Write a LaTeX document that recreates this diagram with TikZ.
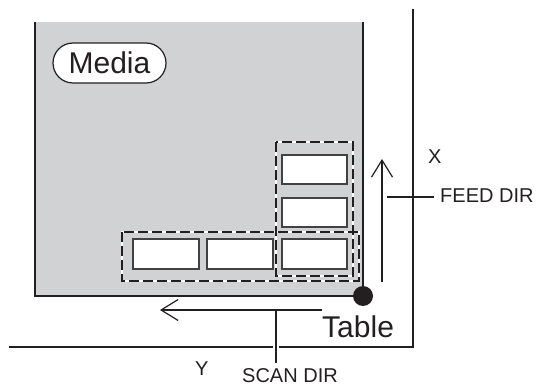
\documentclass[tikz,border=0pt]{standalone}
\usepackage{fontspec}
\setmainfont{Liberation Sans}
\usetikzlibrary{arrows.meta}
\definecolor{ink}{HTML}{231F20}
\definecolor{mediagray}{HTML}{D1D2D4}
\tikzset{
  edgeline/.style={draw=ink, line width=1.6pt},
  cellbox/.style={draw=ink!85, line width=1.2pt, fill=white},
  groupwhite/.style={draw=white, line width=2.2pt},
  groupdash/.style={draw=ink, line width=1.6pt, dash pattern=on 10pt off 4pt},
  barb/.style={-{Straight Barb[length=17pt,width=21pt,line width=1.2pt]}, draw=ink, line width=1.2pt},
  labtext/.style={font=\fontsize{20}{22}\selectfont, text=ink, inner sep=0pt},
  bigtext/.style={font=\fontsize{30}{32}\selectfont, text=ink, inner sep=0pt},
}
\begin{document}
\begin{tikzpicture}[x=1pt,y=-1pt]
\useasboundingbox (0,0) rectangle (541,385);
% media sheet
\fill[mediagray] (35,22) rectangle (363,296);
\draw[edgeline] (35,22) -- (35,296) -- (363,296) -- (363,22);
% table edges
\coordinate (xtop) at (413,9);
\coordinate (corner) at (413,347);
\coordinate (yleft) at (9,347);
\draw[edgeline] (xtop) -- (corner) -- (yleft);
% dashed groups
\foreach \s in {groupwhite,groupdash}{
  \draw[\s] (276,142) rectangle (353,276);
  \draw[\s] (122,232) rectangle (359,281);
}
% cells
\node[cellbox, minimum width=65pt, minimum height=29pt, inner sep=0pt] (c1) at (314.5,169.5) {};
\node[cellbox, minimum width=65pt, minimum height=29pt, inner sep=0pt] (c2) at (314.5,212.5) {};
\node[cellbox, minimum width=65pt, minimum height=30pt, inner sep=0pt] (c3) at (314.5,254) {};
\node[cellbox, minimum width=66pt, minimum height=30pt, inner sep=0pt] (c4) at (166,254) {};
\node[cellbox, minimum width=66pt, minimum height=30pt, inner sep=0pt] (c5) at (240,254) {};
% media label
\node[draw=ink, fill=white, line width=1.2pt, rounded corners=20pt, minimum width=113pt, minimum height=40pt, inner sep=0pt, bigtext] (media) at (109.5,63) {Media};
% origin dot
\fill[ink] (363,296) circle (10pt);
\node[inner sep=0pt] (origin) at (363,296) {};
% feed direction
\coordinate (feedtail) at (382,282);
\coordinate (feedtip) at (382,159);
\draw[barb] (feedtail) -- (feedtip);
\node[labtext, anchor=base west] (feed) at (440,203) {FEED DIR};
\coordinate (feedlead) at (387,197);
\coordinate (feedleadend) at (434,197);
\draw[draw=ink, line width=1.6pt] (feedlead) -- (feedleadend);
\node[labtext, anchor=base west] (xlab) at (428,164) {X};
% scan direction
\coordinate (scantail) at (322,310);
\coordinate (scantip) at (160,310);
\draw[barb] (scantail) -- (scantip);
\node[labtext, anchor=base] (scan) at (290,382) {SCAN DIR};
\coordinate (scantop) at (276,310);
\coordinate (scanbot) at (276,363);
\draw[white, line width=6pt] (276,340) -- (276,354);
\draw[draw=ink, line width=1.6pt] (scantop) -- (scanbot);
\node[labtext, anchor=base west] (ylab) at (195,375) {Y};
% table label
\node[bigtext, anchor=base west] (table) at (322,337) {Table};
\end{tikzpicture}
\end{document}
